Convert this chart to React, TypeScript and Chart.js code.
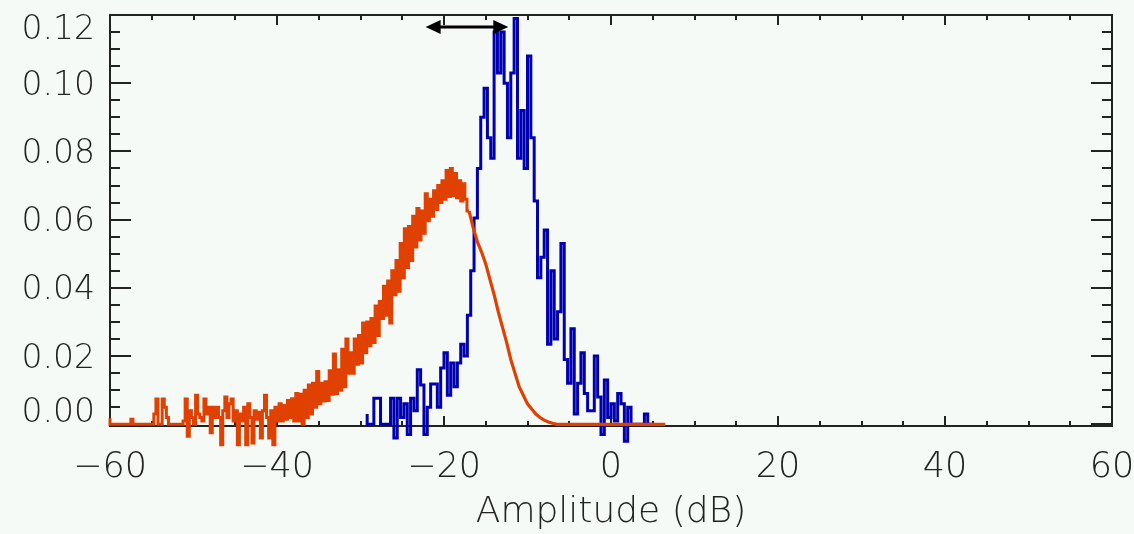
import React, { useEffect, useRef } from 'react';
import { Chart, registerables } from 'chart.js';

Chart.register(...registerables);

// ---- data ----
const xTickValues = [-60, -40, -20, 0, 20, 40, 60];
const yTickValues = [0, 0.02, 0.04, 0.06, 0.08, 0.1, 0.12];
const xAxisTitle = 'Amplitude (dB)';

// blue histogram (bin left edges start at blueStart, width blueBin)
const blueStart = -29.2;
const blueBin = 0.4;
const blueValues = [
  0.003, 0, 0, 0.0076, 0.0076, 0, 0, 0, 0.0076, -0.004,
  0.0076, 0.002, 0.006, -0.003, 0.0076, 0.004, 0.016, 0.0115, -0.003, 0.005,
  0.0118, 0.0118, 0.005, 0.0165, 0.021, 0.0085, 0.018, 0.011, 0.018, 0.0235,
  0.02, 0.032, 0.045, 0.0605, 0.075, 0.09, 0.0985, 0.084, 0.078, 0.115,
  0.103, 0.115, 0.1, 0.084, 0.103, 0.119, 0.078, 0.092, 0.075, 0.108,
  0.084, 0.0655, 0.043, 0.049, 0.057, 0.0235, 0.045, 0.025, 0.033, 0.053,
  0.019, 0.012, 0.028, 0.003, 0.012, 0.021, 0.009, 0.004, 0.004, 0.02,
  0.008, -0.003, 0.013, 0.002, 0.006, 0.001, 0.009, 0.006, -0.005, 0.005,
  0, 0, 0, 0, 0.003, 0,
];

// orange histogram, noisy part (fine bins)
const orangeStart = -60;
const orangeBin = 0.25;
const orangeNoisyValues = [
  0.0018, 0, 0, 0, 0, 0, 0, 0, 0, 0,
  0, 0.0015, 0, 0, 0, 0, 0, 0, 0, 0,
  0, 0, 0.003, 0.0074, 0, 0, 0.0074, 0.005, 0.002, 0,
  0, 0, 0, 0, 0, 0, 0.001, 0.0074, -0.0035, 0.004,
  0.002, 0, 0.0085, 0.003, 0.002, 0.001, 0.0074, 0.003, 0.005, -0.0025,
  0.005, 0.002, 0.005, 0.002, -0.006, 0.004, 0.008, 0.002, 0.006, 0.0074,
  0.001, 0.004, -0.006, 0.003, 0.001, 0.005, -0.006, 0.006, 0.002, -0.0055,
  0.004, 0.0015, 0.0035, -0.004, 0.004, 0.0085, 0.002, -0.004, 0.004, -0.006,
  0.005, 0.001, 0.006, 0.001, 0.0055, 0.0015, 0.007, 0.002, 0.0075, 0.001,
  0.009, 0.001, 0.0088, 0.0, 0.01, 0.002, 0.0115, 0.003, 0.012, 0.005,
  0.0155, 0.006, 0.012, 0.0068, 0.0125, 0.007, 0.0157, 0.0088, 0.0206, 0.009,
  0.016, 0.01, 0.022, 0.011, 0.025, 0.015, 0.021, 0.015, 0.025, 0.0176,
  0.026, 0.018, 0.0297, 0.021, 0.03, 0.023, 0.031, 0.024, 0.0347, 0.026,
  0.036, 0.031, 0.0405, 0.032, 0.042, 0.0297, 0.045, 0.038, 0.048, 0.039,
  0.053, 0.043, 0.0573, 0.046, 0.058, 0.048, 0.061, 0.052, 0.0633, 0.054,
  0.0625, 0.056, 0.0676, 0.0597, 0.066, 0.061, 0.0685, 0.063, 0.07, 0.065,
  0.0714, 0.066, 0.0744, 0.0668, 0.075, 0.067, 0.0735, 0.0664, 0.0714, 0.0655,
  0.0705, 0.066,
];

// orange histogram, smooth falling part
const orangeSmoothStart = -17;
const orangeSmoothStep = 0.5;
const orangeSmoothValues = [
  0.0625, 0.0576, 0.0535, 0.0505, 0.047, 0.0425, 0.038, 0.033, 0.0285, 0.024,
  0.019, 0.015, 0.011, 0.0085, 0.006, 0.0045, 0.003, 0.002, 0.0012, 0.0007,
  0.0003, 0, 0, 0, 0, 0, 0, 0, 0, 0,
  0, 0, 0, 0, 0, 0, 0, 0, 0, 0,
  0, 0, 0, 0, 0, 0, 0, 0,
];

// double arrow annotation
const arrowFrom = -22.2;
const arrowTo = -12.3;
const arrowLevel = 0.1165;

// ---- styles ----
const BG = '#f6faf7';
const INK = '#222222';
const BLUE = '#0000b0';
const ORANGE = '#e04000';
const FONT_FAMILY = "'DejaVu Sans', sans-serif";

const fmtX = (v: number) => (v < 0 ? '\u2212' + Math.abs(v) : String(v));
const fmtY = (v: number) => v.toFixed(2);

const framePlugin = {
  id: 'frame',
  beforeDatasetsDraw(chart: any) {
    const { ctx, chartArea } = chart;
    const { left, right, top, bottom } = chartArea;
    const xs = chart.scales.x;
    const ys = chart.scales.y;
    ctx.save();
    ctx.strokeStyle = INK;
    ctx.lineWidth = 2;
    ctx.strokeRect(left, top, right - left, bottom - top);
    for (let v = -60; v <= 60; v += 5) {
      const px = Math.round(xs.getPixelForValue(v));
      const len = v % 20 === 0 ? 10 : 5;
      ctx.beginPath();
      ctx.moveTo(px, bottom);
      ctx.lineTo(px, bottom - len);
      ctx.moveTo(px, top);
      ctx.lineTo(px, top + len);
      ctx.stroke();
    }
    for (let i = 0; i <= 24; i++) {
      const v = i * 0.005;
      const py = Math.round(ys.getPixelForValue(v));
      const len = i % 4 === 0 ? 21 : 10;
      ctx.beginPath();
      ctx.moveTo(left, py);
      ctx.lineTo(left + len, py);
      ctx.moveTo(right, py);
      ctx.lineTo(right - len, py);
      ctx.stroke();
    }
    ctx.restore();
  },
  afterDatasetsDraw(chart: any) {
    const { ctx, chartArea } = chart;
    const xs = chart.scales.x;
    const ys = chart.scales.y;
    const x1 = xs.getPixelForValue(arrowFrom);
    const x2 = xs.getPixelForValue(arrowTo);
    const ay = ys.getPixelForValue(arrowLevel);
    const head = 15;
    const half = 7;
    ctx.save();
    ctx.strokeStyle = '#000';
    ctx.fillStyle = '#000';
    ctx.lineWidth = 3;
    ctx.beginPath();
    ctx.moveTo(x1 + head - 2, ay);
    ctx.lineTo(x2 - head + 2, ay);
    ctx.stroke();
    ctx.beginPath();
    ctx.moveTo(x1, ay);
    ctx.lineTo(x1 + head, ay - half);
    ctx.lineTo(x1 + head, ay + half);
    ctx.closePath();
    ctx.fill();
    ctx.beginPath();
    ctx.moveTo(x2, ay);
    ctx.lineTo(x2 - head, ay - half);
    ctx.lineTo(x2 - head, ay + half);
    ctx.closePath();
    ctx.fill();
    ctx.restore();

    ctx.save();
    ctx.font = `200 33px ${FONT_FAMILY}`;
    ctx.fillStyle = INK;
    ctx.textAlign = 'right';
    ctx.textBaseline = 'middle';
    const { top, bottom, left } = chartArea;
    ys.ticks.forEach((t: any) => {
      let py = ys.getPixelForValue(t.value) + 3;
      py = Math.min(Math.max(py, top + 15), bottom - 13);
      ctx.fillText(fmtY(t.value), left - 15, py);
    });
    ctx.restore();
  },
};

export default function App() {
  const ref = useRef<HTMLCanvasElement | null>(null);

  useEffect(() => {
    document.body.style.margin = '0';
    document.body.style.background = BG;
    const canvas = ref.current;
    if (!canvas) return;

    const blueData: { x: number; y: number }[] = [{ x: blueStart, y: 0 }];
    blueValues.forEach((v, i) => blueData.push({ x: blueStart + i * blueBin, y: v }));
    blueData.push({ x: blueStart + blueValues.length * blueBin, y: 0 });

    const orangeNoisy: { x: number; y: number }[] = [{ x: orangeStart, y: 0 }];
    orangeNoisyValues.forEach((v, i) => orangeNoisy.push({ x: orangeStart + i * orangeBin, y: v }));
    orangeNoisy.push({ x: orangeSmoothStart, y: orangeSmoothValues[0] });

    const orangeSmooth = orangeSmoothValues.map((v, i) => ({ x: orangeSmoothStart + i * orangeSmoothStep, y: v }));

    const chart = new Chart(canvas, {
      type: 'line',
      data: {
        datasets: [
          {
            data: orangeNoisy,
            borderColor: ORANGE,
            borderWidth: 3,
            stepped: 'after',
            pointRadius: 0,
            fill: false,
            clip: false,
          } as any,
          {
            data: orangeSmooth,
            borderColor: ORANGE,
            borderWidth: 3.2,
            pointRadius: 0,
            fill: false,
            tension: 0,
            clip: false,
          } as any,
          {
            data: blueData,
            borderColor: BLUE,
            borderWidth: 3,
            stepped: 'after',
            pointRadius: 0,
            fill: false,
            clip: false,
          } as any,
        ],
      },
      options: {
        animation: false,
        responsive: false,
        events: [],
        layout: { padding: { left: 0, right: 0, top: 15, bottom: 0 } },
        plugins: {
          legend: { display: false },
          tooltip: { enabled: false },
        },
        scales: {
          x: {
            type: 'linear',
            min: -60,
            max: 60,
            grid: { display: false, drawTicks: false },
            border: { display: false },
            afterBuildTicks: (s: any) => {
              s.ticks = xTickValues.map((v) => ({ value: v }));
            },
            afterFit: (s: any) => {
              s.height = 108;
              s.paddingRight = 22;
            },
            ticks: {
              autoSkip: false,
              maxRotation: 0,
              padding: 21,
              color: INK,
              font: { family: FONT_FAMILY, size: 35, weight: '200' as any },
              callback: (v: any) => fmtX(Number(v)),
            },
            title: {
              display: true,
              text: xAxisTitle,
              color: INK,
              font: { family: FONT_FAMILY, size: 36, weight: '200' as any },
              padding: { top: 0, bottom: 0 },
            },
          },
          y: {
            type: 'linear',
            min: -0.0005,
            max: 0.12,
            grid: { display: false, drawTicks: false },
            border: { display: false },
            afterBuildTicks: (s: any) => {
              s.ticks = yTickValues.map((v) => ({ value: v }));
            },
            afterFit: (s: any) => {
              s.width = 110;
            },
            ticks: { display: false },
          },
        },
      },
      plugins: [framePlugin],
    } as any);

    return () => chart.destroy();
  }, []);

  return (
    <div style={{ width: 1134, height: 534, background: BG }}>
      <canvas ref={ref} width={1134} height={534} />
    </div>
  );
}
